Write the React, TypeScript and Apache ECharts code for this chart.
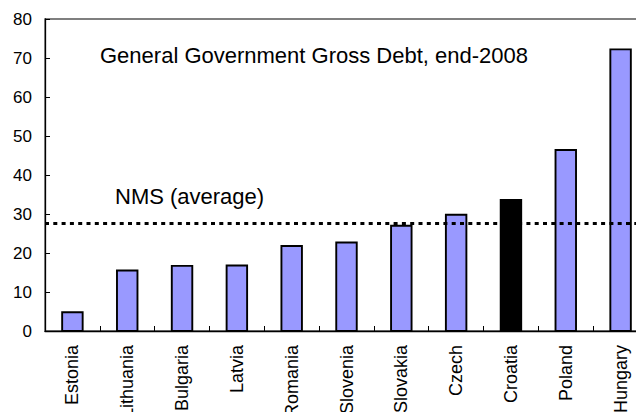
import React, { useEffect, useRef } from "react";
import * as echarts from "echarts";

const categories = ["Estonia", "Lithuania", "Bulgaria", "Latvia", "Romania", "Slovenia", "Slovakia", "Czech", "Croatia", "Poland", "Hungary"];
const debtValues = [4.8, 15.5, 16.7, 16.8, 21.8, 22.7, 27.0, 29.8, 33.6, 46.4, 72.2];
const highlighted = "Croatia";
const nmsAverage = 27.6;
const titleText = "General Government Gross Debt, end-2008";
const averageLabel = "NMS (average)";

export default function App() {
  const ref = useRef<HTMLDivElement>(null);
  useEffect(() => {
    if (!ref.current) return;
    const chart = echarts.init(ref.current, null, { renderer: "svg" });
    const font = "'Liberation Sans', Arial, sans-serif";
    const barW = 20.5;
    chart.setOption({
      animation: false,
      backgroundColor: "#ffffff",
      grid: {
        left: 45,
        top: 19,
        width: 603,
        height: 312,
        show: true,
        borderColor: "#555555",
        borderWidth: 1.3,
        backgroundColor: "transparent",
        containLabel: false,
        outerBoundsMode: "none",
      },
      graphic: [
        {
          type: "text",
          left: 100,
          top: 44,
          style: { text: titleText, font: `22px ${font}`, fill: "#000" },
          z: 10,
        },
        {
          type: "text",
          left: 115,
          top: 185,
          style: { text: averageLabel, font: `22px ${font}`, fill: "#000" },
          z: 10,
        },
      ],
      xAxis: {
        type: "category",
        data: categories,
        axisLine: { show: true, lineStyle: { color: "#000", width: 1.3 } },
        axisTick: { show: true, inside: true, length: 5, lineStyle: { color: "#000" } },
        axisLabel: {
          rotate: 90,
          margin: 14,
          interval: 0,
          color: "#000",
          fontFamily: font,
          fontSize: 18,
        },
      },
      yAxis: {
        type: "value",
        min: 0,
        max: 80,
        interval: 10,
        splitLine: { show: false },
        axisLine: { show: true, lineStyle: { color: "#000", width: 1.3 } },
        axisTick: { show: true, inside: true, length: 5, lineStyle: { color: "#000" } },
        axisLabel: { margin: 13, color: "#000", fontFamily: font, fontSize: 17 },
      },
      series: [
        {
          type: "custom",
          z: 3,
          encode: { x: 0, y: 1 },
          data: categories.map((c, i) => [i, debtValues[i]]),
          renderItem: (params: any, api: any) => {
            const idx = api.value(0);
            const val = api.value(1);
            const top = api.coord([idx, val]);
            const base = api.coord([idx, 0]);
            const isHi = categories[idx] === highlighted;
            return {
              type: "rect",
              shape: {
                x: top[0] - barW / 2,
                y: top[1],
                width: barW,
                height: base[1] - top[1],
              },
              style: {
                fill: isHi ? "#000000" : "#9999ff",
                stroke: "#000000",
                lineWidth: 1.9,
              },
            };
          },
          markLine: {
            silent: true,
            symbol: ["none", "none"],
            label: { show: false },
            lineStyle: { color: "#000", width: 3, type: [4, 4.3] },
            data: [{ yAxis: nmsAverage }],
          },
        },
      ],
    });
    return () => chart.dispose();
  }, []);
  return (
    <div
      ref={ref}
      style={{ position: "absolute", left: 0, top: 0, width: 636, height: 412 }}
    />
  );
}
